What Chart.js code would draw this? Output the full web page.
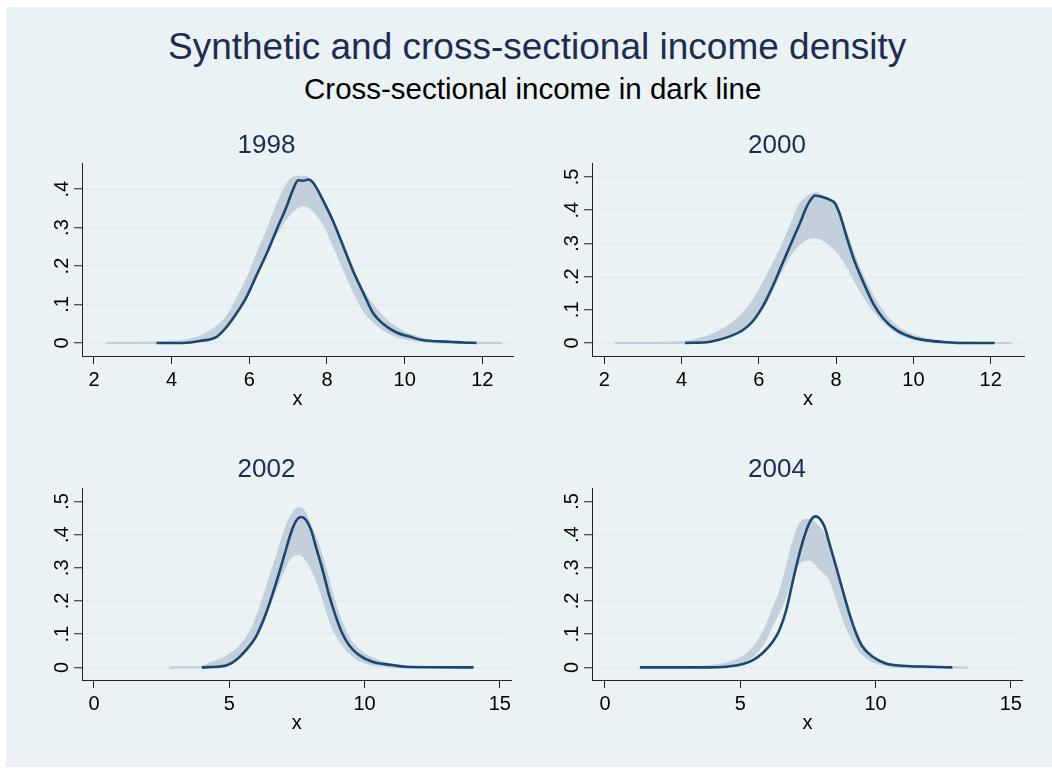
<!DOCTYPE html>
<html>
<head>
<meta charset="utf-8">
<script src="https://cdn.jsdelivr.net/npm/chart.js@4.4.1/dist/chart.umd.min.js"></script>
<style>
  body { margin: 0; background: #ffffff; width: 1052px; height: 769px; overflow: hidden; }
  #bg { position: absolute; left: 6px; top: 7px; width: 1046px; height: 760px; background: #EAF2F3; }
  .ttl { position: absolute; white-space: nowrap; font-family: 'Liberation Sans', Arial, sans-serif; line-height: 1; }
  #mainTitle { left: 168px; top: 28px; font-size: 37px; color: #1E2C52; }
  #subTitle { left: 304px; top: 73.5px; font-size: 29.5px; color: #000000; }
  canvas { position: absolute; }
</style>
</head>
<body>
<div id="bg"></div>
<div id="mainTitle" class="ttl">Synthetic and cross-sectional income density</div>
<div id="subTitle" class="ttl">Cross-sectional income in dark line</div>
<canvas id="c1998" width="495" height="298" style="left:20px;top:118px"></canvas>
<canvas id="c2000" width="496" height="298" style="left:530px;top:118px"></canvas>
<canvas id="c2002" width="495" height="297" style="left:20px;top:443px"></canvas>
<canvas id="c2004" width="496" height="297" style="left:530px;top:443px"></canvas>
<script>
// tick labels
var xTicksTop = [2, 4, 6, 8, 10, 12];
var xTicksBottom = [0, 5, 10, 15];
var yTicks1998 = [0, 0.1, 0.2, 0.3, 0.4];
var yTicksOther = [0, 0.1, 0.2, 0.3, 0.4, 0.5];

// 1998 - cross-sectional density (dark line)
var cs1998X = [3.61, 4.30, 4.73, 5.16, 5.42, 5.67, 5.93, 6.19, 6.45, 6.70, 6.96, 7.13, 7.26, 7.39, 7.52, 7.65, 7.91, 8.16, 8.42, 8.68, 8.94, 9.19, 9.45, 9.79, 10.14, 10.48, 10.91, 11.17, 11.5, 11.85];
var cs1998Y = [0, 0, .005, .016, .042, .077, .12, .177, .233, .294, .355, .40, .423, .422, .425, .416, .368, .316, .251, .185, .129, .077, .049, .027, .016, .007, .004, .003, .001, 0];
// 1998 - synthetic densities, upper and lower envelope
var syn1998X = [2.33, 3.5, 4.0, 4.30, 4.73, 5.16, 5.42, 5.67, 5.93, 6.19, 6.45, 6.70, 6.96, 7.13, 7.39, 7.56, 7.91, 8.16, 8.42, 8.68, 8.94, 9.28, 9.62, 9.97, 10.31, 10.74, 11.5, 12.5];
var synHi1998 = [0, .001, .003, .005, .016, .042, .068, .112, .164, .229, .29, .355, .411, .429, .433, .425, .372, .318, .255, .19, .135, .086, .051, .029, .016, .005, .001, 0];
var synLo1998 = [0, 0, 0, .001, .007, .022, .045, .08, .125, .18, .235, .285, .325, .345, .358, .352, .31, .255, .195, .135, .085, .048, .025, .012, .006, .002, 0, 0];

// 2000
var cs2000X = [4.09, 4.74, 5.25, 5.60, 5.86, 6.12, 6.37, 6.63, 6.89, 7.06, 7.24, 7.37, 7.45, 7.67, 7.84, 7.97, 8.10, 8.27, 8.45, 8.70, 8.96, 9.22, 9.57, 10.0, 10.34, 10.77, 11.2, 12.1];
var cs2000Y = [0, .004, .02, .04, .068, .114, .174, .245, .315, .36, .411, .436, .444, .439, .431, .421, .386, .32, .255, .184, .119, .074, .038, .016, .008, .003, 0, 0];
var syn2000X = [2.28, 3.5, 4.0, 4.30, 4.74, 5.17, 5.51, 5.86, 6.20, 6.55, 6.81, 7.06, 7.28, 7.50, 7.67, 7.90, 8.10, 8.27, 8.62, 8.96, 9.31, 9.65, 10.09, 10.52, 11.2, 12.54];
var synHi2000 = [0, .001, .003, .008, .023, .048, .079, .129, .199, .28, .35, .416, .441, .451, .441, .428, .392, .33, .22, .14, .079, .043, .02, .008, .002, 0];
var synLo2000 = [0, 0, 0, .001, .006, .018, .035, .068, .125, .21, .265, .3, .315, .318, .31, .29, .265, .235, .16, .1, .055, .027, .01, .004, .001, 0];

// 2002
var cs2002X = [3.99, 4.89, 5.25, 5.62, 5.99, 6.36, 6.73, 7.04, 7.28, 7.46, 7.65, 7.83, 8.02, 8.20, 8.45, 8.69, 8.94, 9.18, 9.43, 9.80, 10.29, 11.03, 11.5, 14.03];
var cs2002Y = [0, .006, .022, .052, .093, .163, .254, .339, .405, .44, .453, .445, .415, .364, .294, .218, .153, .102, .067, .037, .017, .007, .002, 0];
var syn2002X = [2.8, 4.0, 4.27, 4.89, 5.38, 5.75, 6.11, 6.48, 6.85, 7.16, 7.40, 7.59, 7.77, 7.96, 8.32, 8.57, 8.82, 9.12, 9.43, 9.80, 10.29, 10.9, 11.5, 12.0];
var synHi2002 = [0, .002, .012, .032, .062, .102, .173, .264, .359, .435, .47, .48, .47, .435, .364, .294, .218, .143, .087, .052, .027, .01, .003, 0];
var synLo2002 = [0, 0, .001, .008, .032, .065, .11, .185, .262, .318, .34, .342, .332, .31, .245, .18, .12, .075, .045, .022, .009, .003, 0, 0];

// 2004
var cs2004X = [1.29, 3.87, 4.48, 5.1, 5.47, 5.84, 6.2, 6.45, 6.7, 6.94, 7.19, 7.43, 7.62, 7.78, 7.92, 8.11, 8.29, 8.54, 8.78, 9.03, 9.28, 9.52, 9.89, 10.38, 11.0, 12.0, 12.84];
var cs2004Y = [0, 0, .002, .01, .022, .044, .077, .113, .173, .259, .344, .41, .445, .455, .45, .425, .375, .304, .234, .163, .103, .062, .032, .012, .005, .002, 0];
var syn2004X = [3.2, 3.87, 4.48, 5.1, 5.47, 5.84, 6.2, 6.45, 6.7, 6.94, 7.19, 7.43, 7.68, 7.92, 8.11, 8.29, 8.54, 8.78, 9.03, 9.28, 9.52, 9.89, 10.38, 11.0, 12.0, 13.4];
var synHi2004 = [0, .004, .012, .032, .057, .103, .173, .223, .294, .374, .43, .445, .44, .42, .4, .36, .3, .232, .165, .108, .067, .035, .014, .005, .002, 0];
var synLo2004 = [0, 0, .004, .015, .035, .07, .13, .17, .22, .28, .315, .325, .322, .3, .285, .269, .213, .153, .103, .065, .04, .018, .006, .001, 0, 0];

var navy = '#1A476F';
var band = '#C3D0DC';
var fontFam = "'Liberation Sans', Arial, sans-serif";

function pts(xs, ys) {
    return xs.map(function (x, i) { return { x: x, y: ys[i] }; });
}

function fmtY(v) {
    return v === 0 ? '0' : String(v).replace(/^0\./, '.');
}

function makePanel(id, year, xs, ys, sx, hi, lo, xTicks, yTicks, xMin, xMax, yMin, yMax, titleTop) {
    var lineOpts = { pointRadius: 0, borderWidth: 2, cubicInterpolationMode: 'monotone' };
    new Chart(document.getElementById(id), {
        type: 'line',
        data: {
            datasets: [
                Object.assign({ label: 'synthetic high', data: pts(sx, hi), borderColor: band, backgroundColor: band, fill: false, order: 2 }, lineOpts),
                Object.assign({ label: 'synthetic low', data: pts(sx, lo), borderColor: band, backgroundColor: band, fill: '-1', order: 2 }, lineOpts),
                Object.assign({}, lineOpts, { label: 'cross-sectional', data: pts(xs, ys), borderColor: navy, borderWidth: 2.6, fill: false, order: 1 })
            ]
        },
        options: {
            responsive: false,
            animation: false,
            devicePixelRatio: 1,
            layout: { padding: { left: 0, right: 2, top: 0, bottom: 0 } },
            plugins: {
                legend: { display: false },
                tooltip: { enabled: false },
                title: {
                    display: true, text: year, color: '#1E2C52',
                    font: { family: fontFam, size: 26, weight: 'normal' },
                    padding: { top: titleTop, bottom: 45 - 31.2 - titleTop }
                }
            },
            scales: {
                x: {
                    type: 'linear', min: xMin, max: xMax,
                    afterBuildTicks: function (s) { s.ticks = xTicks.map(function (v) { return { value: v }; }); },
                    afterFit: function (s) { s.height = 60; },
                    grid: { drawOnChartArea: false, tickLength: 8, tickColor: '#222', tickWidth: 1 },
                    border: { color: '#222', width: 1 },
                    ticks: { autoSkip: false, maxRotation: 0, padding: 4, color: '#000', font: { family: fontFam, size: 20 } },
                    title: { display: true, text: 'x', color: '#000', font: { family: fontFam, size: 20 }, padding: { top: 0, bottom: 4.5 } }
                },
                y: {
                    type: 'linear', min: yMin, max: yMax,
                    afterBuildTicks: function (s) { s.ticks = yTicks.map(function (v) { return { value: v }; }); },
                    afterFit: function (s) { s.width = 62; },
                    grid: { color: '#E3ECF0', lineWidth: 1.5, tickLength: 8, tickColor: '#222', tickWidth: 1 },
                    border: { color: '#222', width: 1 },
                    ticks: {
                        autoSkip: false, minRotation: 90, maxRotation: 90, crossAlign: 'center', padding: 3.4,
                        color: '#000', font: { family: fontFam, size: 20 },
                        callback: function (v) { return fmtY(v); }
                    }
                }
            }
        }
    });
}

makePanel('c1998', '1998', cs1998X, cs1998Y, syn1998X, synHi1998, synLo1998, xTicksTop, yTicks1998, 1.691, 12.79, -0.034, 0.468, 12);
makePanel('c2000', '2000', cs2000X, cs2000Y, syn2000X, synHi2000, synLo2000, xTicksTop, yTicksOther, 1.682, 12.862, -0.039, 0.542, 12);
makePanel('c2002', '2002', cs2002X, cs2002Y, syn2002X, synHi2002, synLo2002, xTicksBottom, yTicksOther, -0.442, 15.431, -0.038, 0.5405, 11);
makePanel('c2004', '2004', cs2004X, cs2004Y, syn2004X, synHi2004, synLo2004, xTicksBottom, yTicksOther, -0.479, 15.442, -0.038, 0.5405, 11);
</script>
</body>
</html>
